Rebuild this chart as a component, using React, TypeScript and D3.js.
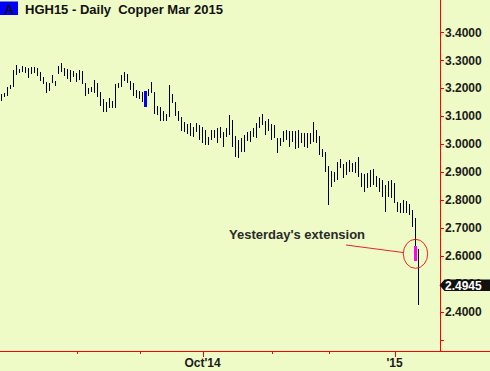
import React from "react";
import * as d3 from "d3";

const W = 490;
const H = 371;

const highs = [
  3.179, 3.184, 3.205, 3.211, 3.265, 3.283, 3.268, 3.279, 3.275, 3.271,
  3.275, 3.275, 3.271, 3.259, 3.241, 3.221, 3.22, 3.247, 3.227, 3.279,
  3.289, 3.271, 3.268, 3.265, 3.263, 3.255, 3.265, 3.262, 3.217, 3.2,
  3.205, 3.229, 3.217, 3.185, 3.16, 3.152, 3.164, 3.154, 3.214, 3.22,
  3.247, 3.258, 3.251, 3.227, 3.217, 3.193, 3.19, 3.187, 3.19, 3.197,
  3.223, 3.185, 3.137, 3.134, 3.12, 3.108, 3.211, 3.179, 3.149, 3.119,
  3.098, 3.078, 3.071, 3.074, 3.062, 3.074, 3.068, 3.062, 3.05, 3.026,
  3.05, 3.05, 3.059, 3.062, 3.042, 3.056, 3.104, 3.086, 3.029, 3.015,
  3.021, 3.032, 3.044, 3.048, 3.056, 3.074, 3.096, 3.108, 3.083, 3.09,
  3.071, 3.068, 3.023, 3.021, 3.048, 3.05, 3.048, 3.048, 3.048, 3.05,
  3.041, 3.039, 3.041, 3.039, 3.078, 3.05, 3.029, 2.981, 2.973, 2.921,
  2.905, 2.901, 2.937, 2.945, 2.929, 2.937, 2.943, 2.933, 2.937, 2.955,
  2.897, 2.893, 2.897, 2.907, 2.91, 2.886, 2.877, 2.871, 2.853, 2.869,
  2.871, 2.86, 2.794, 2.788, 2.8, 2.797, 2.786, 2.764, 2.735, 2.623,
];

const lows = [
  3.155, 3.167, 3.172, 3.198, 3.205, 3.247, 3.255, 3.259, 3.253, 3.238,
  3.25, 3.253, 3.244, 3.227, 3.214, 3.182, 3.191, 3.22, 3.209, 3.25,
  3.259, 3.245, 3.232, 3.223, 3.239, 3.223, 3.229, 3.214, 3.172, 3.179,
  3.187, 3.182, 3.17, 3.136, 3.116, 3.114, 3.128, 3.13, 3.13, 3.2,
  3.205, 3.227, 3.22, 3.193, 3.173, 3.164, 3.16, 3.152, 3.134, 3.172,
  3.182, 3.108, 3.104, 3.083, 3.084, 3.083, 3.097, 3.146, 3.102, 3.084,
  3.048, 3.042, 3.036, 3.03, 3.024, 3.044, 3.015, 3.003, 2.997, 2.997,
  3.015, 3.021, 3.003, 3.023, 2.991, 3.026, 3.032, 2.991, 2.955, 2.951,
  2.973, 2.973, 3.011, 3.008, 3.026, 3.023, 3.056, 3.068, 3.032, 3.048,
  3.015, 3.021, 2.967, 2.993, 3.008, 3.015, 2.991, 3.008, 2.981, 2.985,
  3.003, 2.991, 2.985, 3.0, 3.008, 3.003, 2.961, 2.955, 2.901, 2.782,
  2.847, 2.865, 2.871, 2.913, 2.877, 2.889, 2.901, 2.901, 2.895, 2.883,
  2.847, 2.83, 2.842, 2.847, 2.853, 2.847, 2.83, 2.812, 2.758, 2.812,
  2.806, 2.788, 2.758, 2.752, 2.752, 2.752, 2.746, 2.704, 2.583, 2.424,
];

// highlighted bars
const blueBar = { index: 48 };
const extension = { index: 138, high: 2.636, low: 2.583 };
const lastPrice = 2.4945;

const yTicks = [2.3, 2.4, 2.5, 2.6, 2.7, 2.8, 2.9, 3.0, 3.1, 3.2, 3.3, 3.4];
const yLabelTicks = [2.4, 2.5, 2.6, 2.7, 2.8, 2.9, 3.0, 3.1, 3.2, 3.3, 3.4];
const xTickIdx = [25, 46, 67, 90, 109, 131];
const xTickLabels = ["", "", "Oct'14", "", "", "'15"];

const title = "HGH15 - Daily  Copper Mar 2015";
const annotation = "Yesterday's extension";

const FONT = "Arial, 'Liberation Sans', Helvetica, sans-serif";
const BG = "#EEFBC6";
const RED = "#FF0000";

export default function App() {
  const x = d3.scaleLinear().domain([0, highs.length - 1]).range([1.5, 1.5 + 3 * (highs.length - 1)]);
  const y = d3.scaleLinear().domain([2.4, 3.4]).range([311.7, 32.3]);
  const axisX = 440.5;
  const axisY = 351.5;

  const bars = highs.map((h, i) => ({ i, h, l: lows[i] }));
  const extX = x(extension.index);
  const py = y(lastPrice);

  return (
    <svg
      width={W}
      height={H}
      style={{ position: "absolute", left: 0, top: 0, background: BG }}
      fontFamily={FONT}
    >
      <rect x={0} y={0} width={W} height={H} fill={BG} />

      {/* bars */}
      <g shapeRendering="crispEdges">
        {bars.map((b) => (
          <rect
            key={b.i}
            x={x(b.i) - 0.5}
            y={y(b.h)}
            width={1}
            height={Math.max(1, y(b.l) - y(b.h))}
            fill="#000"
          />
        ))}
        <rect
          x={x(blueBar.index) - 1.5}
          y={y(highs[blueBar.index])}
          width={3}
          height={y(lows[blueBar.index]) - y(highs[blueBar.index])}
          fill="#0000FF"
        />
        <rect
          x={extX - 1.5}
          y={y(extension.high)}
          width={3}
          height={y(extension.low) - y(extension.high)}
          fill="#FF00FF"
        />
      </g>

      {/* annotation */}
      <ellipse cx={extX} cy={253.8} rx={12.2} ry={14.5} fill="none" stroke="#E8242C" strokeWidth={1} />
      <line x1={346} y1={245} x2={403} y2={252.5} stroke="#E8242C" strokeWidth={1} />
      <text x={229} y={238.5} fontSize={13} fontWeight="bold" fill="#2a2a2a">
        {annotation}
      </text>

      {/* axes */}
      <g shapeRendering="crispEdges">
        <line x1={axisX} y1={0} x2={axisX} y2={axisY} stroke={RED} />
        <line x1={0} y1={axisY} x2={W} y2={axisY} stroke={RED} />
        {yTicks.map((t) => (
          <line key={t} x1={axisX} x2={axisX + 3.5} y1={Math.round(y(t)) + 0.5} y2={Math.round(y(t)) + 0.5} stroke={RED} />
        ))}
        {xTickIdx.map((t, k) => (
          <line
            key={t}
            x1={Math.round(x(t)) + 0.5}
            x2={Math.round(x(t)) + 0.5}
            y1={axisY}
            y2={axisY + (xTickLabels[k] ? 5 : 2.5)}
            stroke={RED}
          />
        ))}
      </g>
      {yLabelTicks.map((t) => (
        <text key={t} x={445} y={y(t) + 4.3} fontSize={12} fontWeight="bold" fill="#1a1a1a">
          {t.toFixed(4)}
        </text>
      ))}
      {xTickIdx.map((t, k) =>
        xTickLabels[k] ? (
          <text key={t} x={x(t)} y={367.3} fontSize={12} fontWeight="bold" fill="#1a1a1a" textAnchor="middle">
            {xTickLabels[k]}
          </text>
        ) : null
      )}

      {/* last price marker */}
      <path
        d={`M${axisX - 1},${py} L${axisX + 4},${py - 5.8} L${W},${py - 5.8} L${W},${py + 5.8} L${axisX + 4},${py + 5.8} Z`}
        fill="#111"
      />
      <text x={445} y={py + 4.3} fontSize={12} fontWeight="bold" fill="#fff">
        {lastPrice.toFixed(4)}
      </text>

      {/* title */}
      <rect x={0} y={1.5} width={18} height={13.5} fill="#0000FF" />
      <text x={4.5} y={13.5} fontSize={13} fontWeight="bold" fill="#111">
        A
      </text>
      <text x={25} y={13.5} fontSize={13} fontWeight="bold" fill="#111" style={{ whiteSpace: "pre" }}>
        {title}
      </text>
    </svg>
  );
}
